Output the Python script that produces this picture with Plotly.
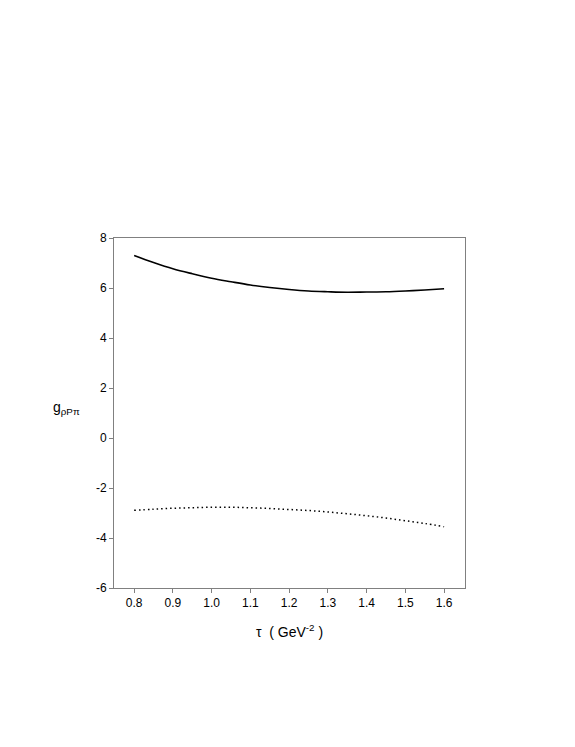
import plotly.graph_objects as go

tau = [0.8, 0.85, 0.9, 0.95, 1.0, 1.05, 1.1, 1.15, 1.2, 1.25, 1.3, 1.35, 1.4, 1.45, 1.5, 1.55, 1.6]
g_solid = [7.30, 7.02, 6.77, 6.57, 6.39, 6.25, 6.12, 6.02, 5.94, 5.88, 5.85, 5.83, 5.84, 5.85, 5.88, 5.92, 5.97]
g_dotted = [-2.89, -2.85, -2.81, -2.79, -2.77, -2.77, -2.79, -2.82, -2.86, -2.90, -2.96, -3.03, -3.11, -3.20, -3.31, -3.42, -3.55]

x_ticks = [0.8, 0.9, 1.0, 1.1, 1.2, 1.3, 1.4, 1.5, 1.6]
x_ticklabels = ["0.8", "0.9", "1.0", "1.1", "1.2", "1.3", "1.4", "1.5", "1.6"]
y_ticks = [-6, -4, -2, 0, 2, 4, 6, 8]
y_ticklabels = ["-6", "-4", "-2", "0", "2", "4", "6", "8"]

fig = go.Figure()
fig.add_trace(go.Scatter(x=tau, y=g_solid, mode="lines", line=dict(color="black", width=1.6, shape="spline"), showlegend=False))
fig.add_trace(go.Scatter(x=tau, y=g_dotted, mode="lines", line=dict(color="black", width=1.5, dash="1.5px,3px", shape="spline"), showlegend=False))

axis_common = dict(showline=True, linecolor="#808080", linewidth=1, mirror=True, ticks="outside",
                   ticklen=4, tickcolor="#808080", showgrid=False, zeroline=False,
                   tickfont=dict(family="Liberation Sans, Arial", size=12, color="black"))

fig.update_layout(
    width=567, height=739,
    margin=dict(l=106, r=110, t=230, b=159),
    paper_bgcolor="white", plot_bgcolor="white",
    xaxis=dict(range=[0.748, 1.654], tickvals=x_ticks, ticktext=x_ticklabels,
               title=dict(text="τ  ( GeV<sup>-2</sup> )", font=dict(family="Liberation Sans, Arial", size=14, color="black"), standoff=17),
               **axis_common),
    yaxis=dict(range=[-6, 8], tickvals=y_ticks, ticktext=y_ticklabels, **axis_common),
    annotations=[dict(text="g<sub>ρPπ</sub>", x=-0.134, y=0.515, xref="paper", yref="paper",
                      showarrow=False, xanchor="center", yanchor="middle",
                      font=dict(family="Liberation Sans, Arial", size=14, color="black"))],
)

fig.write_html("out.html")
